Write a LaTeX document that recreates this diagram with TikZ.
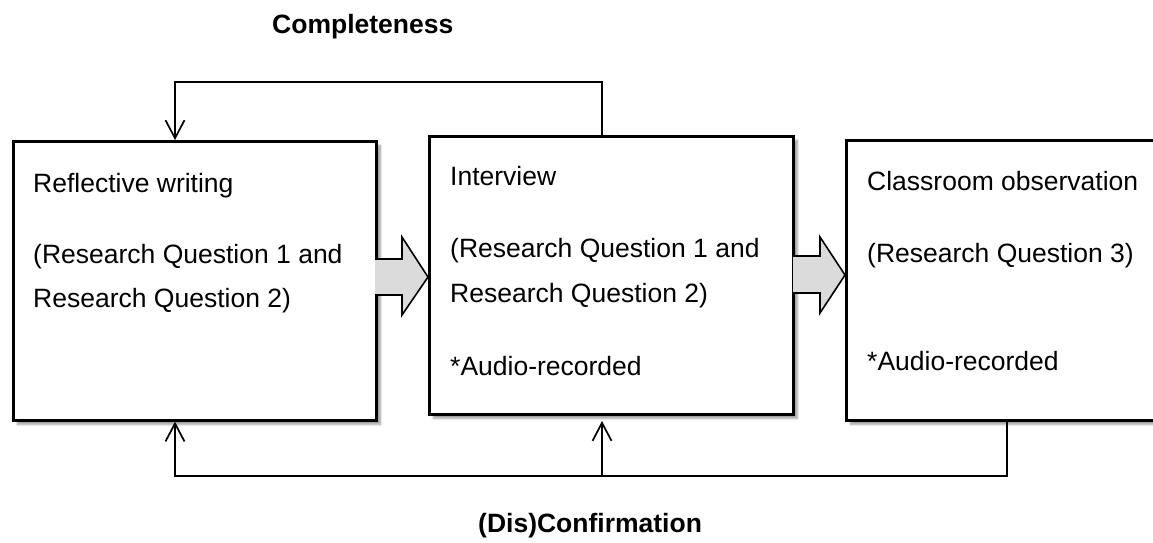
\documentclass[tikz,border=0pt]{standalone}
\usepackage{fontspec}
\setmainfont{Liberation Sans}
\usetikzlibrary{arrows.meta,shadows.blur,calc}
\begin{document}
\begin{tikzpicture}[x=1pt,y=-1pt,
  box/.style={draw=black,line width=2.6pt,fill=white,rectangle,inner sep=0pt,anchor=north west,
    blur shadow={shadow xshift=4pt,shadow yshift=-4pt,shadow blur steps=6,shadow opacity=40}},
  txt/.style={anchor=base west,inner sep=0pt,font=\fontsize{26.5}{30}\selectfont},
  ttl/.style={anchor=base west,inner sep=0pt,font=\fontsize{26.5}{30}\selectfont\bfseries},
  loopline/.style={line width=2.4pt},
  upline/.style={line width=1.5pt},
  tip/.style={-{Straight Barb[length=18pt,width=19pt,line width=1.7pt]}},
  blockarrow/.style={draw=black,line width=1.6pt,fill=gray!28,line join=miter}]
\useasboundingbox (0,0) rectangle (1153,542);
\clip (0,0) rectangle (1153,542);

% boxes
\node[box,minimum width=363pt,minimum height=279pt] (b1) at (12,140) {};
\node[box,minimum width=364pt,minimum height=278pt] (b2) at (428,135) {};
\node[box,minimum width=330pt,minimum height=280pt] (b3) at (845,139) {};

% block arrows
\draw[blockarrow] (375,259) -- (402,259) -- (402,237) -- (428,277) -- (402,315) -- (402,295) -- (375,295);
\draw[blockarrow] (793,256) -- (820,256) -- (820,237) -- (845,275) -- (820,313) -- (820,293) -- (793,293);

% texts in box 1
\node[txt] (t11) at (33,192) {Reflective writing};
\node[txt] (t12) at (33,263) {(Research Question 1 and};
\node[txt] (t13) at (33,307) {Research Question 2)};
% box 2
\node[txt] (t21) at (450,185) {Interview};
\node[txt] (t22) at (450,257) {(Research Question 1 and};
\node[txt] (t23) at (450,302) {Research Question 2)};
\node[txt] (t24) at (450,375) {*Audio-recorded};
% box 3
\node[txt] (t31) at (867,190) {Classroom observation};
\node[txt] (t32) at (867,262) {(Research Question 3)};
\node[txt] (t33) at (867,370) {*Audio-recorded};

% labels
\node[ttl] (lc) at (272,33) {Completeness};
\node[ttl] (ld) at (478,532) {(Dis)Confirmation};

% coordinates for connectors
\coordinate (xa) at (175,0);
\coordinate (xb) at (602,0);
\coordinate (xc) at (1007,0);
\coordinate (top) at (602,82);
\coordinate (bot) at (1007,476);
\coordinate (b2tip) at (602,421);
\coordinate (bl) at (175,476);

% top loop
\draw[loopline,tip] (b2.north -| xb) -- (top) -| (b1.north -| xa);

% bottom loop
\draw[loopline,line cap=rect] (b3.south -| xc) -- (bot) -- (bl);
\draw[upline,tip] (bl) -- (b1.south -| xa);
\draw[upline,tip] (bot -| xb) -- (b2tip);
\end{tikzpicture}
\end{document}
